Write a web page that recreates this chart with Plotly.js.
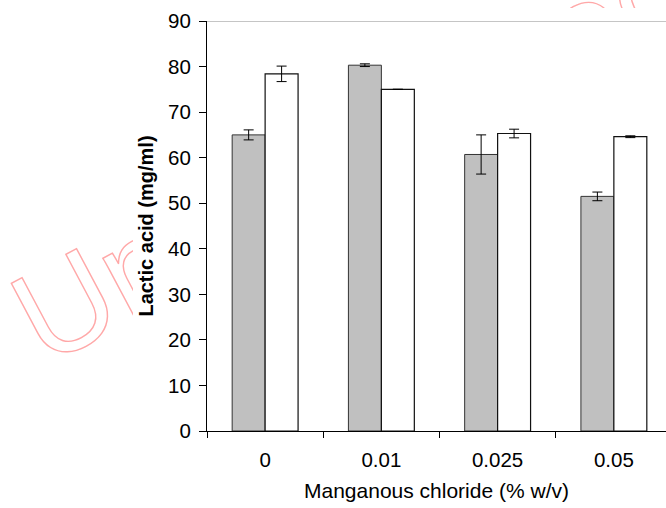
<!DOCTYPE html>
<html>
<head>
<meta charset="utf-8">
<script src="https://cdn.plot.ly/plotly-3.0.1.min.js"></script>
<style>
  html, body { margin: 0; padding: 0; background: #fff; }
  #wrap { position: relative; width: 666px; height: 508px; overflow: hidden; }
  #chart { position: absolute; left: 0; top: 0; width: 666px; height: 508px; }
  #mark { position: absolute; left: 0; top: 0; pointer-events: none; }
</style>
</head>
<body>
<div id="wrap">
  <div id="chart"></div>
  <svg id="mark" width="666" height="508" xmlns="http://www.w3.org/2000/svg">
    <defs>
      <clipPath id="outside">
        <polygon points="0,0 666,0 666,8 133,8 133,508 0,508"/>
      </clipPath>
    </defs>
    <g clip-path="url(#outside)">
      <text x="44.5" y="367" transform="rotate(-28 44.5 367)"
            font-family="Liberation Sans, Arial, sans-serif" font-size="130"
            fill="none" stroke="#ffa8a8" stroke-width="1.4">Unregistered</text>
    </g>
  </svg>
</div>
<script>
// Manganous chloride concentrations (% w/v)
const categories = ['0', '0.01', '0.025', '0.05'];

// Lactic acid (mg/ml), first series (grey bars) with standard deviations
const lacticGrey = [65.0, 80.3, 60.7, 51.5];
const errGrey = [1.1, 0.3, 4.3, 0.95];

// Lactic acid (mg/ml), second series (white bars) with standard deviations
const lacticWhite = [78.4, 75.0, 65.3, 64.6];
const errWhite = [1.7, 0, 0.95, 0.2];

const yTicks = [0, 10, 20, 30, 40, 50, 60, 70, 80, 90];

const fontFamily = 'Liberation Sans, Arial, sans-serif';
const tickFont = { family: fontFamily, size: 20.5, color: '#000' };
const titleFont = { family: fontFamily, size: 21, color: '#000' };

const traces = [
  {
    type: 'bar',
    x: categories,
    y: lacticGrey,
    marker: { color: '#c0c0c0', line: { color: '#333', width: 1 } },
    error_y: { type: 'data', array: errGrey, visible: true, color: '#000', thickness: 1, width: 5 },
    showlegend: false,
    hoverinfo: 'x+y'
  },
  {
    type: 'bar',
    x: categories,
    y: lacticWhite,
    marker: { color: '#ffffff', line: { color: '#111', width: 1.2 } },
    error_y: { type: 'data', array: errWhite, visible: true, color: '#000', thickness: 1, width: 5 },
    showlegend: false,
    hoverinfo: 'x+y'
  }
];

const layout = {
  width: 666,
  height: 508,
  margin: { l: 207, r: 0, t: 21, b: 77, pad: 0 },
  paper_bgcolor: 'rgba(0,0,0,0)',
  plot_bgcolor: '#ffffff',
  barmode: 'group',
  bargap: 0.433,
  bargroupgap: 0,
  font: tickFont,
  xaxis: {
    type: 'category',
    range: [-0.5, 3.4485],
    showline: true,
    linecolor: '#000',
    linewidth: 1,
    ticks: 'outside',
    tickson: 'boundaries',
    ticklen: 6,
    tickcolor: '#000',
    tickwidth: 1,
    ticklabelstandoff: 10,
    showgrid: false,
    zeroline: false,
    tickfont: tickFont,
    title: { text: 'Manganous chloride (% w/v)', font: titleFont, standoff: 13 }
  },
  yaxis: {
    range: [0, 90],
    tickvals: yTicks,
    ticktext: yTicks.map(String),
    showline: true,
    linecolor: '#000',
    linewidth: 1,
    ticks: 'outside',
    ticklen: 7,
    tickcolor: '#000',
    tickwidth: 1,
    ticklabelstandoff: 4,
    showgrid: false,
    zeroline: false,
    tickfont: tickFont,
    title: {
      text: '<b>Lactic acid (mg/ml)</b>',
      font: { family: fontFamily, size: 20, color: '#000' },
      standoff: 9
    }
  },
  shapes: [
    {
      type: 'line', xref: 'paper', x0: 0, x1: 1, yref: 'y', y0: 90, y1: 90,
      line: { color: '#8c8c8c', width: 1 }
    }
  ]
};

Plotly.newPlot('chart', traces, layout, { staticPlot: true, displayModeBar: false });
</script>
</body>
</html>
